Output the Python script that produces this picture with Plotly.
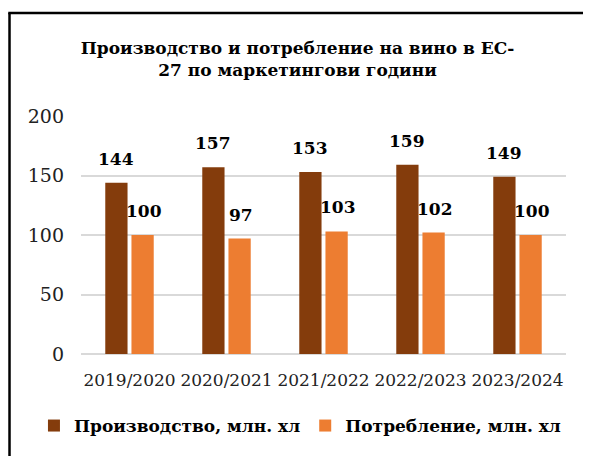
import plotly.graph_objects as go

categories = ["2019/2020", "2020/2021", "2021/2022", "2022/2023", "2023/2024"]
production = [144, 157, 153, 159, 149]
consumption = [100, 97, 103, 102, 100]
series_names = ["Производство, млн. хл", "Потребление, млн. хл"]
title_text = "Производство и потребление на вино в ЕС-<br>27 по маркетингови години"
y_ticks = [0, 50, 100, 150, 200]

FONT = "DejaVu Serif"
C1 = "#843C0C"
C2 = "#ED7D31"

fig = go.Figure()
fig.add_trace(go.Bar(x=categories, y=production, name=series_names[0], marker_color=C1,
                     marker_line_width=0))
fig.add_trace(go.Bar(x=categories, y=consumption, name=series_names[1], marker_color=C2,
                     marker_line_width=0))

for vals, shift in ((production, -14), (consumption, 14)):
    for c, v in zip(categories, vals):
        fig.add_annotation(x=c, y=v, text=f"<b>{v}</b>", showarrow=False, xshift=shift,
                           yshift=12, yanchor="bottom",
                           font=dict(family=FONT, size=17, color="black"))

# chart frame (left and top edges; right/bottom fall outside the picture)
border = dict(color="black", width=2.5)
fig.add_shape(type="line", xref="paper", yref="paper", x0=-0.1474, x1=-0.1474,
              y0=-0.6, y1=1.4328, line=border, layer="below")
fig.add_shape(type="line", xref="paper", yref="paper", x0=-0.1500, x1=1.3,
              y0=1.4328, y1=1.4328, line=border, layer="below")

fig.update_layout(
    width=583, height=448,
    margin=dict(l=73, r=25, t=108, b=102, autoexpand=False),
    paper_bgcolor="white", plot_bgcolor="white",
    barmode="group", bargap=0.46, bargroupgap=0.15,
    title=dict(text=f"<b>{title_text}</b>", x=0.4966, xanchor="center",
               y=1 - 46 / 448, yanchor="top", yref="container",
               font=dict(family=FONT, size=17, color="black")),
    legend=dict(orientation="h", x=-0.097, xanchor="left", y=-0.3025, yanchor="middle",
                font=dict(family=FONT, size=17, color="black", weight="bold"),
                itemwidth=30, traceorder="normal"),
    showlegend=True,
)
fig.update_yaxes(range=[0, 200], tickvals=y_ticks, showgrid=True, gridcolor="#d9d9d9",
                 gridwidth=1.5, zeroline=True, zerolinecolor="#d9d9d9", zerolinewidth=1.5,
                 showline=False, ticks="", tickfont=dict(family=FONT, size=19, color="#222"),
                 ticklabelstandoff=16)
fig.update_xaxes(showline=False, ticks="", ticklabelstandoff=14,
                 tickfont=dict(family=FONT, size=17, color="#222"))

fig.write_html("out.html")
